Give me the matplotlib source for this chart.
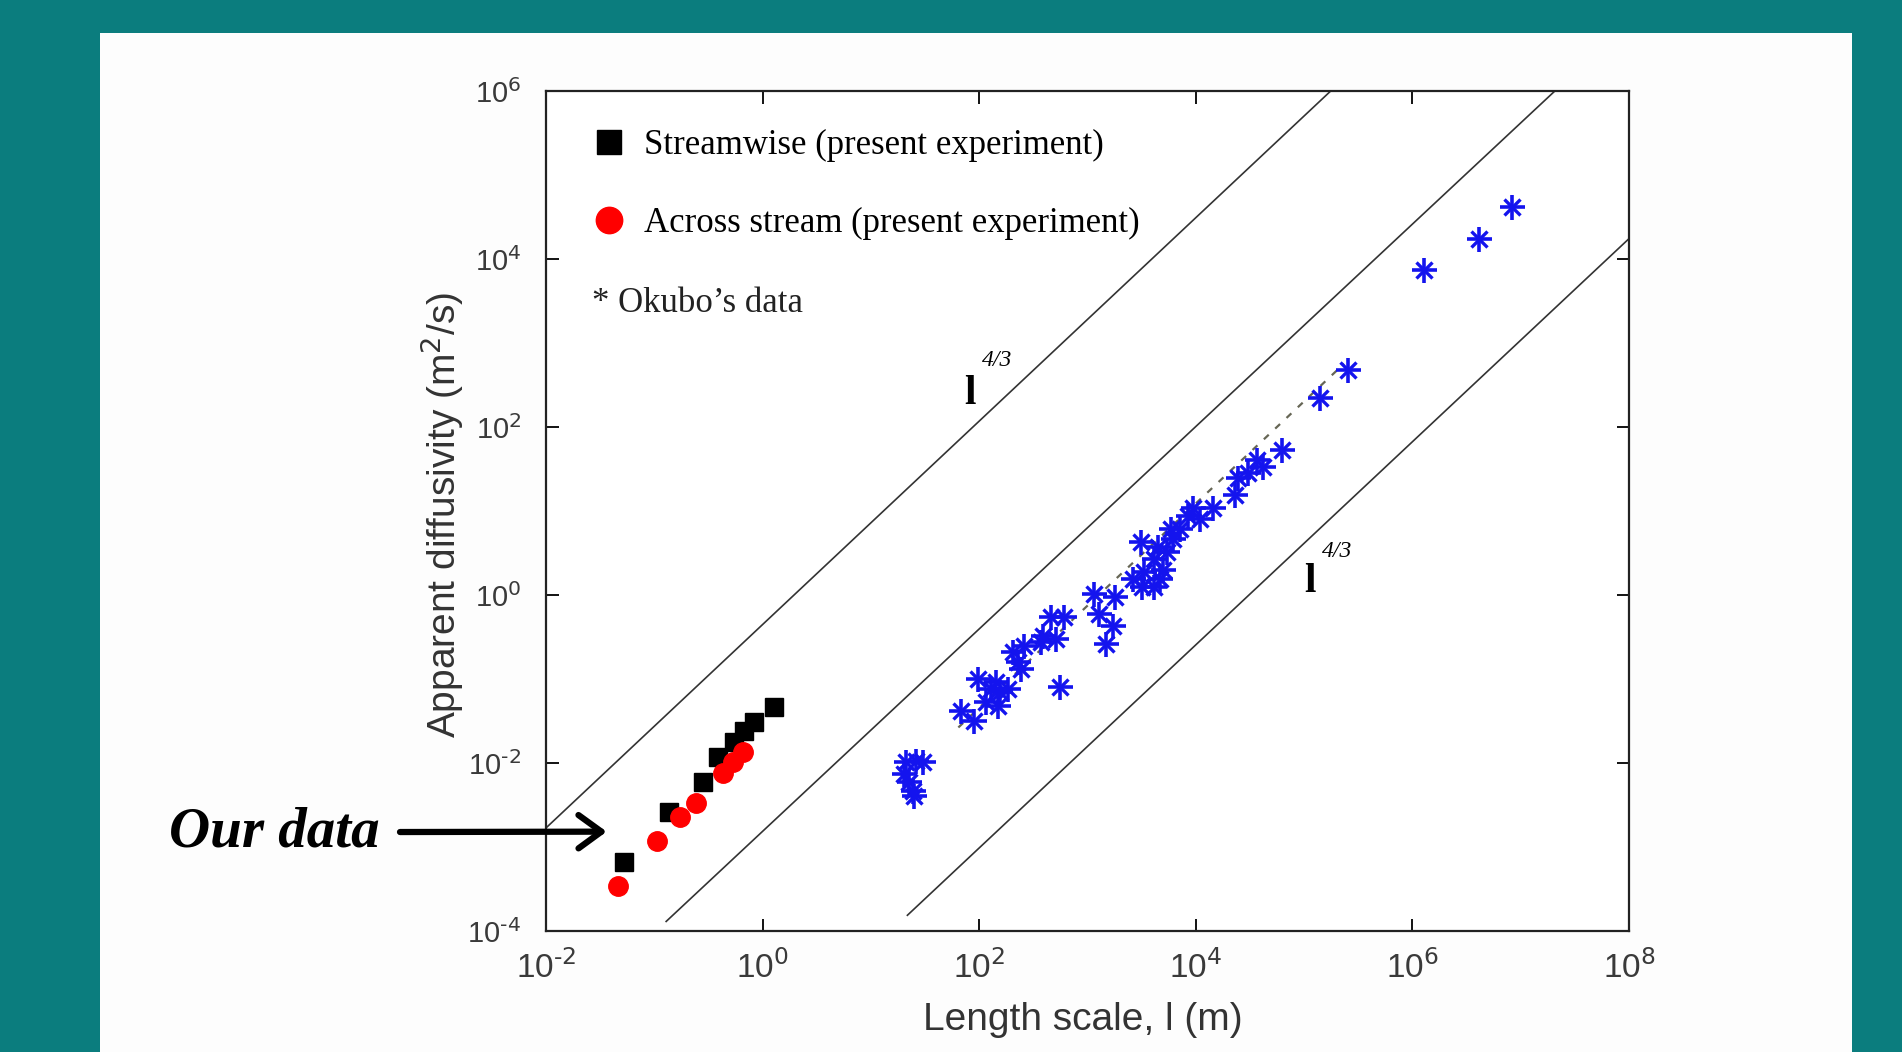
import numpy as np
import matplotlib.pyplot as plt
from matplotlib.lines import Line2D
from matplotlib.patches import Rectangle
from matplotlib.ticker import NullLocator

plt.rcParams['axes.unicode_minus'] = False

# streamwise (present experiment)
stream_l = [0.0525, 0.136, 0.28, 0.39, 0.54, 0.67, 0.83, 1.27]
stream_k = [6.6e-4, 2.6e-3, 5.9e-3, 0.0117, 0.018, 0.024, 0.031, 0.047]

# across stream (present experiment)
across_l = [0.046, 0.106, 0.172, 0.24, 0.43, 0.53, 0.66]
across_k = [3.4e-4, 1.17e-3, 2.26e-3, 3.3e-3, 7.6e-3, 0.0102, 0.0135]

# Okubo's data
okubo_l = [20.9, 25.9, 30.1, 20.1, 22.3, 24.3, 24.8,
           67.3, 88.7, 96.6, 114.6, 127, 142, 148, 157, 183, 207, 226, 241, 257, 368, 552,
           456, 601, 507, 385, 1135, 1262, 1811, 1702, 1466, 2600, 3214, 3289, 4064,
           5023, 5470, 3083, 6209,
           4426, 4710, 4064, 5834, 7211, 8375, 9506, 11015, 14520, 23170, 24720,
           30550, 36980, 42070, 62950,
           1.41e5, 2.56e5, 1.285e6, 4.13e6, 8.34e6]
okubo_k = [0.0102, 0.0105, 0.0102, 0.0074, 0.0059, 0.0046, 0.0041,
           0.0413, 0.0314, 0.099, 0.0528, 0.0755, 0.0914, 0.0473, 0.0695, 0.0755, 0.207,
           0.158, 0.130, 0.245, 0.273, 0.0796,
           0.542, 0.542, 0.296, 0.322, 1.02, 0.587, 0.935, 0.424, 0.259, 1.53, 1.23, 1.86,
           2.65, 2.01, 3.21, 4.23, 4.58,
           3.78, 1.53, 1.26, 6.03, 6.03, 8.61, 11.0, 7.93, 11.0, 15.7, 25.0,
           28.7, 40.9, 33.8, 53.8,
           224, 482, 7447, 17380, 41780]

# l^4/3 guide lines (end points)
guide_l = [[0.01, 1.758e5], [0.1285, 2.065e7], [21.7, 1e8]]
guide_k = [[1.69e-3, 1e6], [1.30e-4, 1e6], [1.54e-4, 1.75e4]]

# fitted line through Okubo's data
fit_l = [64.1, 2.33e5]
fit_k = [0.0265, 566]

x_exp = ['-2', '0', '2', '4', '6', '8']
y_exp = ['-4', '-2', '0', '2', '4', '6']
legend_labels = ['Streamwise (present experiment)', 'Across stream (present experiment)']


def decade_label(e):
    # keep the short hyphen of the exponent as plain text
    return r'$\mathdefault{10^{\text{%s}}}$' % e


fig = plt.figure(figsize=(19.02, 10.52), dpi=100)
fig.patch.set_facecolor('#0b7d7e')
fig.add_artist(Rectangle((0.0526, 0), 0.9211, 0.9686, transform=fig.transFigure,
                         facecolor='#fdfdfd', edgecolor='none', zorder=0))

ax = fig.add_axes([0.2871, 0.1150, 0.5694, 0.7985])
ax.set_xscale('log')
ax.set_yscale('log')
ax.set_xlim(1e-2, 1e8)
ax.set_ylim(1e-4, 1e6)

for gl, gk in zip(guide_l, guide_k):
    ax.plot(gl, gk, color='#333333', lw=1.2, zorder=2)

ax.plot(fit_l, fit_k, color='#666655', lw=1.6, dashes=(3, 4), zorder=2)

ax.plot(okubo_l, okubo_k, ls='none', marker='+', ms=18, mew=2.6, color='#1414ee', zorder=3)
ax.plot(okubo_l, okubo_k, ls='none', marker='x', ms=11, mew=2.4, color='#1414ee', zorder=3)

ax.plot(stream_l, stream_k, ls='none', marker='s', ms=13, color='black', zorder=4)
ax.plot(across_l, across_k, ls='none', marker='o', ms=14, color='red', zorder=5)

# axes, ticks
ax.set_xticks([10.0 ** int(e) for e in x_exp])
ax.set_yticks([10.0 ** int(e) for e in y_exp])
ax.xaxis.set_minor_locator(NullLocator())
ax.yaxis.set_minor_locator(NullLocator())
ax.set_xticklabels([decade_label(e) for e in x_exp],
                   family=['Liberation Sans Narrow', 'Liberation Sans'], fontsize=24, color='#3a3a3a')
ax.set_yticklabels([decade_label(e) for e in y_exp],
                   family='Liberation Sans', fontsize=21, color='#3a3a3a')
ax.tick_params(which='both', direction='in', top=True, right=True, length=9, width=1.3)
ax.tick_params(axis='x', pad=14)
ax.tick_params(axis='y', pad=18)
for s in ax.spines.values():
    s.set_linewidth(1.6)
    s.set_color('#222222')

ax.set_xlabel('Length scale, l (m)', family='Liberation Sans', fontsize=28, color='#333333')
ax.set_ylabel(r'Apparent diffusivity (m$^2$/s)', family='Liberation Sans', fontsize=28, color='#333333')
ax.xaxis.set_label_coords(0.496, -0.085)
ax.yaxis.set_label_coords(-0.074, 0.495)

# legend
h1 = Line2D([], [], ls='none', marker='s', ms=17, color='black')
h2 = Line2D([], [], ls='none', marker='o', ms=19, color='red')
ax.legend([h1, h2], legend_labels, loc='upper left', bbox_to_anchor=(0.044, 0.955),
          frameon=False, prop={'family': 'Liberation Serif', 'size': 25},
          handlelength=0.9, handletextpad=0.55, labelspacing=1.3,
          borderpad=0, borderaxespad=0, numpoints=1)
ax.text(0.0426, 0.7475, '* Okubo\u2019s data', transform=ax.transAxes,
        family='Liberation Serif', fontsize=25, va='center', ha='left', color='#222222')

# power-law labels
ax.text(10 ** 1.919, 10 ** 2.392, 'l', family='Liberation Serif', weight='bold', fontsize=30,
        ha='center', va='center')
ax.text(10 ** 2.166, 10 ** 2.797, '4/3', family='Liberation Serif', style='italic',
        fontsize=17, ha='center', va='center')
ax.text(10 ** 5.055, 10 ** 0.156, 'l', family='Liberation Serif', weight='bold', fontsize=30,
        ha='center', va='center')
ax.text(10 ** 5.301, 10 ** 0.517, '4/3', family='Liberation Serif', style='italic',
        fontsize=17, ha='center', va='center')

# "Our data" pointer
fig.text(0.1998, 0.2091, 'Our data', family='Liberation Serif', style='italic',
         weight='bold', fontsize=41, ha='right', va='center')
ax.annotate('', xy=(10 ** -1.44, 10 ** -2.817), xytext=(400 / 1902, 0.2091),
            textcoords='figure fraction', annotation_clip=False,
            arrowprops=dict(arrowstyle='->,head_length=0.55,head_width=0.4',
                            lw=4.5, color='black', mutation_scale=30,
                            shrinkA=0, shrinkB=0))

fig.savefig('out.png', dpi=100, facecolor=fig.get_facecolor())
